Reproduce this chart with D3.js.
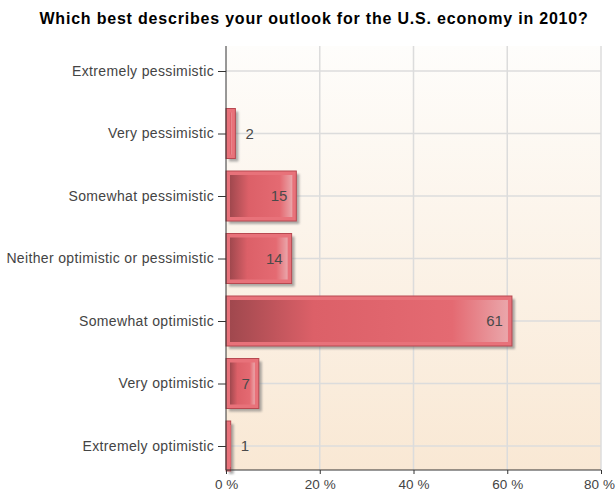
<!DOCTYPE html>
<html>
<head>
<meta charset="utf-8">
<script src="https://cdn.jsdelivr.net/npm/d3@7"></script>
<style>
  body { margin: 0; background: #fff; }
  text { font-family: "Liberation Sans", Arial, sans-serif; }
</style>
</head>
<body>
<script>
// data
var categories = ["Extremely pessimistic", "Very pessimistic", "Somewhat pessimistic",
  "Neither optimistic or pessimistic", "Somewhat optimistic", "Very optimistic", "Extremely optimistic"];
var values = [0, 2, 15, 14, 61, 7, 1];
var xTicks = [0, 20, 40, 60, 80];

var width = 616, height = 495;
var plotLeft = 226, plotRight = 601, plotTop = 46, plotBottom = 470;

var svg = d3.select("body").append("svg")
  .attr("width", width)
  .attr("height", height);

var defs = svg.append("defs");

var bg = defs.append("linearGradient").attr("id", "plotbg")
  .attr("x1", 0).attr("y1", 0).attr("x2", 0).attr("y2", 1);
bg.append("stop").attr("offset", "0%").attr("stop-color", "#fefdfb");
bg.append("stop").attr("offset", "100%").attr("stop-color", "#f9e8d4");

var barGrad = defs.append("linearGradient").attr("id", "barGrad")
  .attr("x1", 0).attr("y1", 0).attr("x2", 1).attr("y2", 0);
barGrad.append("stop").attr("offset", "0%").attr("stop-color", "#a0484e");
barGrad.append("stop").attr("offset", "30%").attr("stop-color", "#dc6068");
barGrad.append("stop").attr("offset", "80%").attr("stop-color", "#e46a72");
barGrad.append("stop").attr("offset", "100%").attr("stop-color", "#eaa6aa");

var blur = defs.append("filter").attr("id", "shadow")
  .attr("x", "-20%").attr("y", "-20%").attr("width", "160%").attr("height", "160%");
blur.append("feGaussianBlur").attr("stdDeviation", 1.2);

// title
svg.append("text")
  .attr("x", 314)
  .attr("y", 24)
  .attr("text-anchor", "middle")
  .style("font-weight", "bold")
  .style("font-size", "16px")
  .style("letter-spacing", "0.8px")
  .attr("fill", "#000")
  .text("Which best describes your outlook for the U.S. economy in 2010?");

var x = d3.scaleLinear().domain([0, 80]).range([plotLeft, plotRight]);
var y = d3.scalePoint().domain(categories).range([71, 446]);
var barH = 50;

// plot background
svg.append("rect")
  .attr("x", plotLeft).attr("y", plotTop)
  .attr("width", plotRight - plotLeft).attr("height", plotBottom - plotTop)
  .attr("fill", "url(#plotbg)");

// grid lines
svg.selectAll(".vgrid").data(xTicks.slice(1))
  .enter().append("line")
  .attr("x1", function(d) { return x(d); })
  .attr("x2", function(d) { return x(d); })
  .attr("y1", plotTop).attr("y2", plotBottom)
  .attr("stroke", "#dcdcdc").attr("stroke-width", 1.5);

svg.selectAll(".hgrid").data(categories)
  .enter().append("line")
  .attr("x1", plotLeft).attr("x2", plotRight)
  .attr("y1", function(d) { return y(d); })
  .attr("y2", function(d) { return y(d); })
  .attr("stroke", "#dcdcdc").attr("stroke-width", 1.5);

// bars
var rows = categories.map(function(c, i) { return { cat: c, val: values[i] }; })
  .filter(function(d) { return d.val > 0; });

var bars = svg.selectAll(".bar").data(rows)
  .enter().append("g");

bars.append("rect")
  .attr("x", plotLeft + 3)
  .attr("y", function(d) { return y(d.cat) - barH / 2 + 3; })
  .attr("width", function(d) { return x(d.val) - plotLeft; })
  .attr("height", barH)
  .attr("fill", "#777")
  .attr("opacity", 0.6)
  .attr("filter", "url(#shadow)");

bars.append("rect")
  .attr("x", plotLeft)
  .attr("y", function(d) { return y(d.cat) - barH / 2; })
  .attr("width", function(d) { return x(d.val) - plotLeft; })
  .attr("height", barH)
  .attr("fill", "#e8727a")
  .attr("stroke", "#b84850")
  .attr("stroke-width", 1);

bars.append("rect")
  .attr("x", plotLeft + 4)
  .attr("y", function(d) { return y(d.cat) - barH / 2 + 4; })
  .attr("width", function(d) { return Math.max(x(d.val) - plotLeft - 8, 1); })
  .attr("height", barH - 8)
  .attr("fill", "url(#barGrad)");

// value labels
bars.append("text")
  .attr("x", function(d) {
    var w = x(d.val) - plotLeft;
    return w > 25 ? x(d.val) - 9 : x(d.val) + 10;
  })
  .attr("y", function(d) { return y(d.cat) + 5; })
  .attr("text-anchor", function(d) { return (x(d.val) - plotLeft) > 25 ? "end" : "start"; })
  .style("font-size", "15px")
  .attr("fill", "#4a4a4a")
  .text(function(d) { return d.val; });

// y axis
var yAxis = svg.append("g")
  .attr("transform", "translate(" + plotLeft + ",0)")
  .call(d3.axisLeft(y).tickSize(8).tickPadding(4));
yAxis.select(".domain").attr("stroke", "#333").attr("d", "M0," + plotTop + "V" + plotBottom);
yAxis.selectAll(".tick line").attr("stroke", "#333");
yAxis.selectAll("text")
  .style("font-size", "14px")
  .style("letter-spacing", "0.35px")
  .style("font-family", "'Liberation Sans', Arial, sans-serif")
  .attr("fill", "#444");

// x axis
var xAxis = svg.append("g")
  .attr("transform", "translate(0," + plotBottom + ")")
  .call(d3.axisBottom(x).tickValues(xTicks).tickSize(4).tickPadding(5)
    .tickFormat(function(d) { return d + " %"; }));
xAxis.select(".domain").attr("stroke", "#333").attr("d", "M" + plotLeft + ",0H" + plotRight);
xAxis.selectAll(".tick line").attr("stroke", "#333");
xAxis.selectAll("text")
  .style("font-size", "13.5px")
  .style("font-family", "'Liberation Sans', Arial, sans-serif")
  .attr("fill", "#444")
  .attr("dx", function(d) { return d === 80 ? -2 : 0; });
</script>
</body>
</html>
